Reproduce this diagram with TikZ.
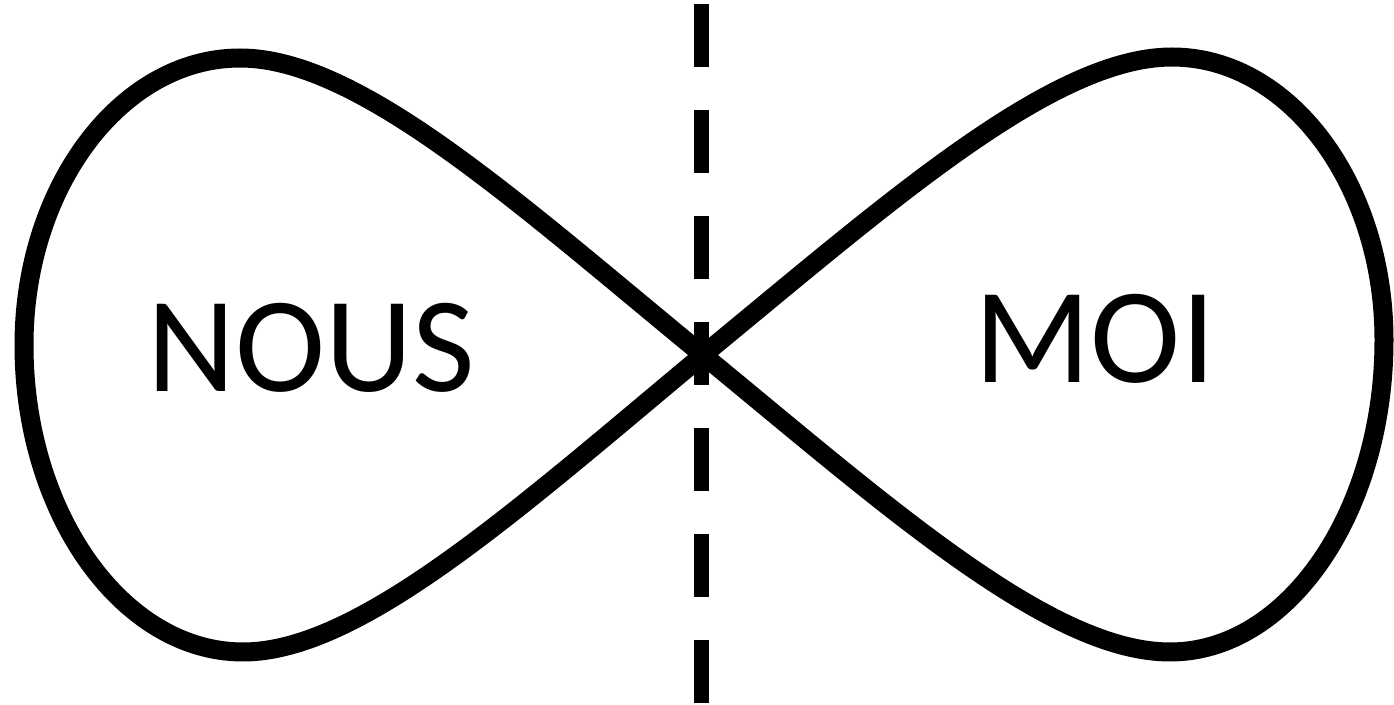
\documentclass[tikz,border=0pt]{standalone}
\usepackage{fontspec}
\setmainfont{Carlito}
\begin{document}
\begin{tikzpicture}[x=0.5pt,y=-0.5pt,
  curve/.style={line width=9.5pt, line join=round},
  divider/.style={line width=7.5pt, dash pattern=on 31.5pt off 21.5pt},
  word/.style={font=\fontsize{68}{68}\selectfont, inner sep=0pt, anchor=base}]
\useasboundingbox (0,0) rectangle (1394,705);
\coordinate (dtop) at (701,4.5);
\coordinate (dbot) at (701,705);
\draw[divider] (dtop) -- (dbot);
\coordinate (C) at (703,355);
\coordinate (LT) at (240,58);
\coordinate (LL) at (24,345);
\coordinate (LB) at (243,652);
\coordinate (RT) at (1172,57);
\coordinate (RR) at (1384,340);
\coordinate (RB) at (1170,652);
\draw[curve] (C) .. controls (520,205) and (360,58) .. (LT)
  .. controls (121,58) and (24,187) .. (LL)
  .. controls (24,514) and (123,652) .. (LB)
  .. controls (360,652) and (518,509) .. (C)
  .. controls (888,203) and (1052,57) .. (RT)
  .. controls (1289,57) and (1384,184) .. (RR)
  .. controls (1384,512) and (1288,652) .. (RB)
  .. controls (1050,652) and (888,507) .. cycle;
\node[word] (nous) at (311,392) {NOUS};
\node[word] (moi) at (1095,383) {MOI};
\end{tikzpicture}
\end{document}
